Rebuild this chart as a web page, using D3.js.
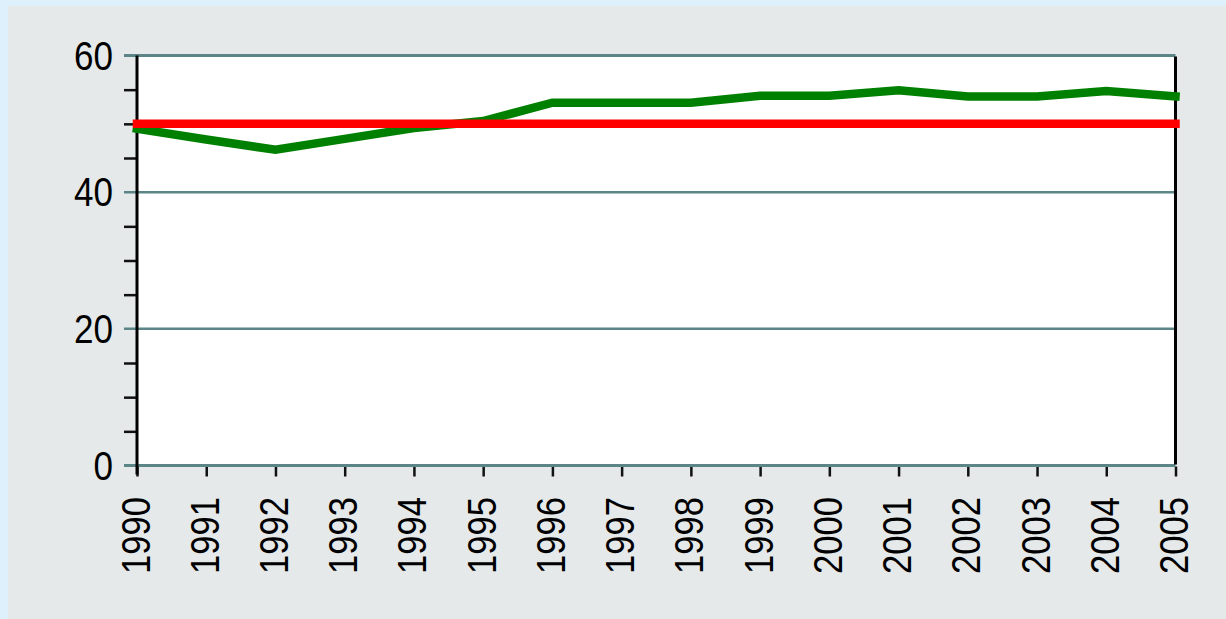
<!DOCTYPE html>
<html lang="en">
    <head>
        <meta charset="utf-8">
        <title>Line chart</title>
        <script type="text/javascript" src="https://cdn.jsdelivr.net/npm/d3@7"></script>
        <style>
          body { margin: 0; background: #ddf0fb; }
          svg { display: block; }
        </style>
    </head>
    <body>

        <script type="text/javascript">
          // data
          var years = ["1990", "1991", "1992", "1993", "1994", "1995", "1996", "1997",
                       "1998", "1999", "2000", "2001", "2002", "2003", "2004", "2005"];
          var greenValues = [49.3, 47.7, 46.2, 47.8, 49.4, 50.4, 53.1, 53.1,
                             53.1, 54.1, 54.1, 54.9, 54, 54, 54.8, 54];
          var redValues = [50, 50, 50, 50, 50, 50, 50, 50,
                           50, 50, 50, 50, 50, 50, 50, 50];
          var yTicks = [0, 20, 40, 60];
          var yMinorTicks = [5, 10, 15, 25, 30, 35, 45, 50, 55];

          var w = 1226;
          var h = 619;
          // NB: "top" is taken by window.top, so use plot* names
          var plotLeft = 137, plotRight = 1175.5, plotTop = 55.5, plotBottom = 465.5;
          var gridColor = "#5b8587";

          var svg = d3.select("body")
            .append("svg")
            .attr("width", w)
            .attr("height", h);

          // grey panel (light blue frame shows on top and left only)
          svg.append("rect")
            .attr("x", 8)
            .attr("y", 6)
            .attr("width", w - 8)
            .attr("height", h - 6)
            .attr("fill", "#e5e9ea");

          // plot area
          svg.append("rect")
            .attr("x", plotLeft)
            .attr("y", plotTop)
            .attr("width", plotRight - plotLeft)
            .attr("height", plotBottom - plotTop)
            .attr("fill", "white");

          var x = d3.scalePoint()
            .domain(years)
            .range([plotLeft, plotRight])
            .padding(0);

          var y = d3.scaleLinear()
            .domain([0, 60])
            .range([plotBottom, plotTop]);

          // minor ticks on the y axis
          svg.append("g")
            .attr("transform", "translate(" + (plotLeft - 1) + ",0)")
            .call(d3.axisLeft(y).tickValues(yMinorTicks).tickSize(12).tickFormat(""))
            .call(function(g) {
              g.select(".domain").remove();
              g.selectAll("line").attr("stroke", "#111").attr("stroke-width", 2.5);
            });

          // x ticks below the bottom line
          svg.append("g")
            .attr("transform", "translate(0," + (plotBottom + 1) + ")")
            .call(d3.axisBottom(x).tickSize(10).tickFormat(""))
            .call(function(g) {
              g.select(".domain").remove();
              g.selectAll("line").attr("stroke", "#111").attr("stroke-width", 2.5);
            });

          // gridlines (also act as major ticks, starting left of the axis)
          svg.selectAll("line.grid")
            .data(yTicks)
            .enter()
            .append("line")
            .attr("class", "grid")
            .attr("x1", plotLeft - 13)
            .attr("x2", plotRight)
            .attr("y1", function(d) { return y(d); })
            .attr("y2", function(d) { return y(d); })
            .attr("stroke", gridColor)
            .attr("stroke-width", function(d) { return d === 60 || d === 0 ? 3 : 2.5; });

          // y axis line and right border
          svg.append("line")
            .attr("x1", plotLeft).attr("x2", plotLeft)
            .attr("y1", plotTop).attr("y2", plotBottom + 9)
            .attr("stroke", "black")
            .attr("stroke-width", 3);
          svg.append("line")
            .attr("x1", plotRight).attr("x2", plotRight)
            .attr("y1", plotTop + 1).attr("y2", plotBottom - 1)
            .attr("stroke", "black")
            .attr("stroke-width", 3);

          // y labels
          svg.selectAll("text.ylab")
            .data(yTicks)
            .enter()
            .append("text")
            .attr("class", "ylab")
            .text(function(d) { return d; })
            .attr("x", 113)
            .attr("y", function(d) { return y(d) + 14; })
            .attr("text-anchor", "end")
            .attr("font-family", "Liberation Sans, Arial, sans-serif")
            .attr("font-size", "40px")
            .attr("textLength", function(d) { return String(d).length * 19.5; })
            .attr("lengthAdjust", "spacingAndGlyphs")
            .attr("fill", "black");

          // x labels, rotated
          svg.selectAll("text.xlab")
            .data(years)
            .enter()
            .append("text")
            .attr("class", "xlab")
            .text(function(d) { return d; })
            .attr("transform", function(d) {
              return "translate(" + (x(d) + 12.5) + ",497) rotate(-90)";
            })
            .attr("text-anchor", "end")
            .attr("font-family", "Liberation Sans, Arial, sans-serif")
            .attr("font-size", "40px")
            .attr("textLength", 77)
            .attr("lengthAdjust", "spacingAndGlyphs")
            .attr("fill", "black");

          // the two series
          var line = d3.line()
            .x(function(d, i) { return x(years[i]); })
            .y(function(d) { return y(d); });

          svg.append("path")
            .datum(greenValues)
            .attr("d", line)
            .attr("fill", "none")
            .attr("stroke", "#008000")
            .attr("stroke-width", 8.5)
            .attr("stroke-linecap", "square");

          svg.append("path")
            .datum(redValues)
            .attr("d", line)
            .attr("fill", "none")
            .attr("stroke", "#ff0000")
            .attr("stroke-width", 8.5)
            .attr("stroke-linecap", "square");

        </script>
    </body>
</html>
